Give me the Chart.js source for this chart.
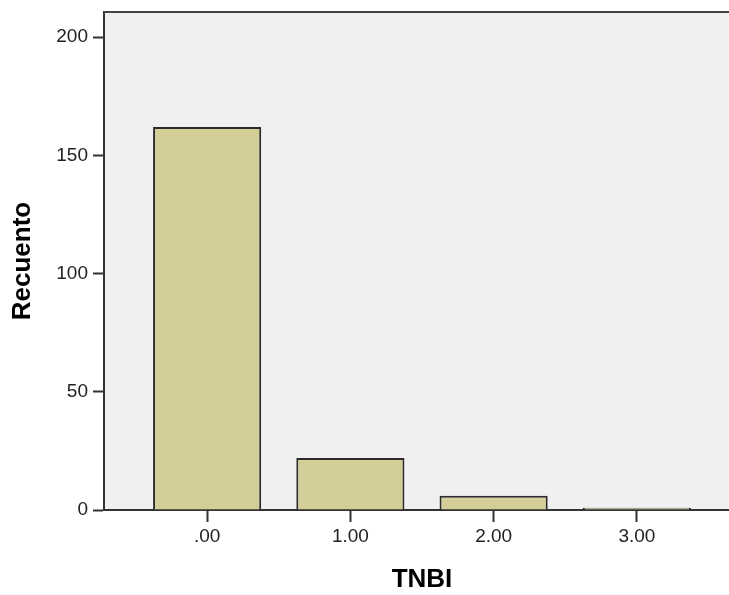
<!DOCTYPE html>
<html>
<head>
<meta charset="utf-8">
<script src="https://cdn.jsdelivr.net/npm/chart.js@4"></script>
<style>
  html, body { margin: 0; padding: 0; background: #fff; overflow: hidden; }
  #wrap { width: 740px; height: 595px; }
</style>
</head>
<body>
<div id="wrap"><canvas id="chart" width="740" height="595"></canvas></div>
<script>
// Data
const categories = [0, 1, 2, 3];
const xLabels = ['.00', '1.00', '2.00', '3.00'];
const counts = [162, 22, 6, 1];
const yTicks = [0, 50, 100, 150, 200];

const FONT = '"Liberation Sans", Arial, sans-serif';

// plot background and top frame line
const plotFrame = {
  id: 'plotFrame',
  beforeDraw(chart) {
    const { ctx, chartArea: a } = chart;
    ctx.save();
    ctx.fillStyle = '#F0F0F0';
    ctx.fillRect(a.left, a.top, a.right - a.left, a.bottom - a.top);
    ctx.restore();
  },
  afterDraw(chart) {
    const { ctx, chartArea: a } = chart;
    ctx.save();
    ctx.strokeStyle = '#444';
    ctx.lineWidth = 2;
    ctx.beginPath();
    ctx.moveTo(a.left, a.top);
    ctx.lineTo(a.right, a.top);
    ctx.stroke();
    ctx.restore();
  }
};

const ctx = document.getElementById('chart').getContext('2d');
new Chart(ctx, {
  type: 'bar',
  data: {
    datasets: [{
      data: categories.map((c, i) => ({ x: c, y: counts[i] })),
      backgroundColor: '#D3CE97',
      borderColor: '#2b2b2b',
      borderWidth: 2,
      barPercentage: 0.755,
      categoryPercentage: 1
    }]
  },
  plugins: [plotFrame],
  options: {
    responsive: false,
    devicePixelRatio: 1,
    animation: false,
    layout: { padding: { top: 12, left: 0, right: 0, bottom: 0 } },
    plugins: { legend: { display: false }, tooltip: { enabled: false } },
    scales: {
      x: {
        type: 'linear',
        offset: false,
        min: -0.72,
        max: 3.72,
        afterBuildTicks(scale) { scale.ticks = categories.map(v => ({ value: v })); },
        afterFit(scale) { scale.height = 85; scale.paddingLeft = 0; scale.paddingRight = 0; },
        ticks: {
          autoSkip: false,
          maxRotation: 0,
          padding: 3,
          color: '#222',
          font: { family: FONT, size: 19 },
          callback: (v, i) => xLabels[i]
        },
        grid: { offset: false, drawOnChartArea: false, tickLength: 12, tickWidth: 2, tickColor: '#333' },
        border: { display: true, color: '#333', width: 2 },
        title: {
          display: true,
          text: 'TNBI',
          color: '#000',
          font: { family: FONT, size: 26, weight: 'bold' },
          padding: { top: 0, bottom: 0 }
        }
      },
      y: {
        min: 0,
        max: 210.6,
        afterBuildTicks(scale) { scale.ticks = yTicks.map(v => ({ value: v })); },
        afterFit(scale) { scale.width = 104; scale.paddingTop = 0; scale.paddingBottom = 0; },
        ticks: {
          padding: 5,
          color: '#222',
          font: { family: FONT, size: 19 }
        },
        grid: { drawOnChartArea: false, tickLength: 11, tickWidth: 2, tickColor: '#333' },
        border: { display: true, color: '#333', width: 2 },
        title: {
          display: true,
          text: 'Recuento',
          color: '#000',
          font: { family: FONT, size: 26, weight: 'bold' },
          padding: { top: 7, bottom: 0 }
        }
      }
    }
  }
});
</script>
</body>
</html>
